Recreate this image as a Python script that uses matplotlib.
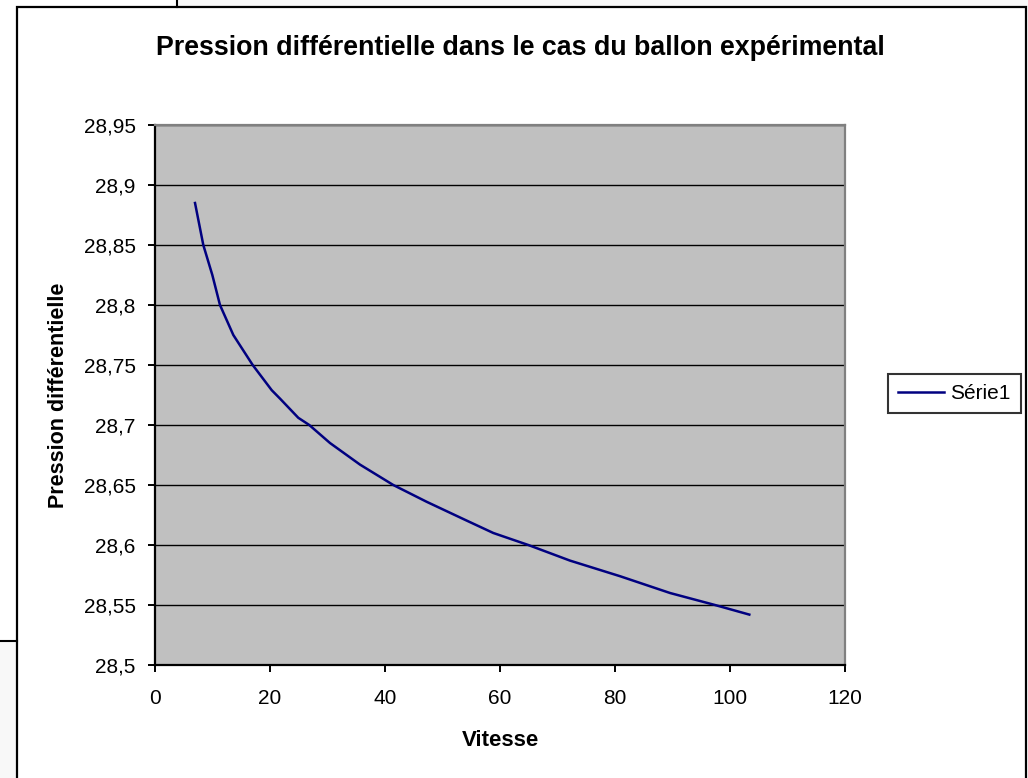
import matplotlib
matplotlib.use("Agg")
import matplotlib.pyplot as plt
from matplotlib.patches import Rectangle
from matplotlib.lines import Line2D
from matplotlib.ticker import FuncFormatter

plt.rcParams['font.family'] = ['Liberation Sans', 'DejaVu Sans']

# Values
vitesse = [6.96, 8.40, 9.97, 11.30, 13.62, 16.99, 20.30, 21.74, 24.92, 26.83,
           30.43, 35.65, 41.44, 47.25, 53.91, 58.84, 64.92, 72.17, 80.87,
           89.57, 97.39, 103.36]
pression = [28.885, 28.850, 28.825, 28.800, 28.775, 28.750, 28.729, 28.722,
            28.706, 28.700, 28.685, 28.667, 28.650, 28.636, 28.621, 28.610,
            28.600, 28.587, 28.574, 28.560, 28.550, 28.542]

x_ticks = [0, 20, 40, 60, 80, 100, 120]
y_ticks = [28.5, 28.55, 28.6, 28.65, 28.7, 28.75, 28.8, 28.85, 28.9, 28.95]

W, H = 1028, 778
fig = plt.figure(figsize=(W / 100, H / 100), dpi=100)

def fx(px):
    return px / W

def fy(py):
    return 1 - py / H

# Excel sheet leftovers around the chart object
fig.patches.append(Rectangle((fx(177), fy(6.7)), 1, 1, transform=fig.transFigure,
                             facecolor='#f8f8f8', edgecolor='none', zorder=0))
fig.patches.append(Rectangle((0, 0), fx(17), fy(641), transform=fig.transFigure,
                             facecolor='#f8f8f8', edgecolor='none', zorder=0))
fig.lines.append(Line2D([fx(177), fx(177)], [fy(6.7), 1], transform=fig.transFigure,
                        color='black', lw=1.5))
fig.lines.append(Line2D([0, fx(17)], [fy(641), fy(641)], transform=fig.transFigure,
                        color='black', lw=1.5))
# chart area border
fig.patches.append(Rectangle((fx(17), fy(790)), fx(1026) - fx(17), fy(6.7) - fy(790),
                             transform=fig.transFigure, facecolor='white',
                             edgecolor='black', lw=1.6, zorder=1))

ax = fig.add_axes([fx(155), fy(665), fx(845) - fx(155), fy(125) - fy(665)])
ax.set_facecolor('#c0c0c0')
ax.set_zorder(2)

ax.plot(vitesse, pression, color='#000080', lw=1.8, label='Série1')

ax.set_xlim(0, 120)
ax.set_ylim(28.5, 28.95)
ax.set_xticks(x_ticks)
ax.set_yticks(y_ticks)
ax.yaxis.set_major_formatter(FuncFormatter(lambda v, p: f"{v:g}".replace('.', ',')))
ax.grid(axis='y', color='black', lw=1.0)
ax.set_axisbelow(True)

for s in ['left', 'bottom']:
    ax.spines[s].set_color('black')
    ax.spines[s].set_linewidth(1.6)
for s in ['top', 'right']:
    ax.spines[s].set_color('#808080')
    ax.spines[s].set_linewidth(1.6)

ax.tick_params(axis='both', direction='out', length=5, width=1.4, labelsize=15,
               colors='black')
ax.tick_params(axis='x', pad=12)
ax.tick_params(axis='y', pad=9)

fig.text(fx(520), fy(48), 'Pression différentielle dans le cas du ballon expérimental',
         ha='center', va='center', fontsize=19.3, fontweight='bold', zorder=3)
fig.text(fx(59), fy(395), 'Pression différentielle', rotation=90, ha='center',
         va='center', fontsize=15.5, fontweight='bold', zorder=3)
fig.text(fx(500), fy(740), 'Vitesse', ha='center', va='center', fontsize=16,
         fontweight='bold', zorder=3)

leg = ax.legend(loc='center left', bbox_to_anchor=(fx(888), fy(393.5)),
                bbox_transform=fig.transFigure, fontsize=15, frameon=True,
                fancybox=False, handlelength=2.2, handletextpad=0.3,
                borderpad=0.5, borderaxespad=0)
leg.get_frame().set_edgecolor('black')
leg.get_frame().set_linewidth(1.5)

fig.savefig('out.png', dpi=100)
